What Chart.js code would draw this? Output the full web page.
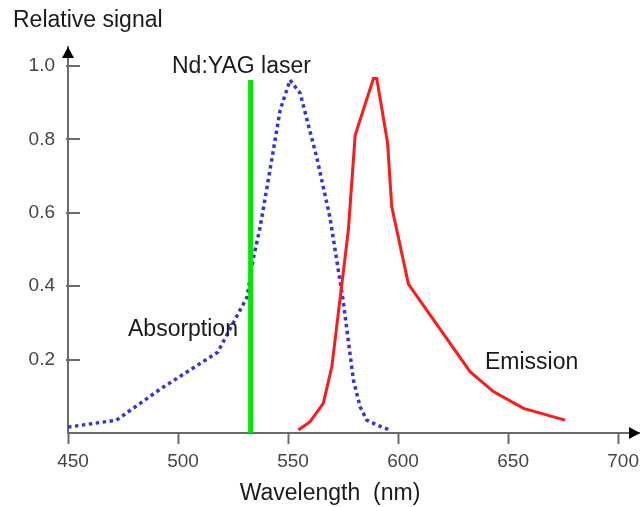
<!DOCTYPE html>
<html>
<head>
<meta charset="utf-8">
<title>Relative signal</title>
<script src="https://cdn.jsdelivr.net/npm/chart.js@4"></script>
<style>
  body { margin: 0; background: #fff; }
  canvas { display: block; }
</style>
</head>
<body>
<canvas id="spectra" width="640" height="507"></canvas>
<script>
// values
const absWavelength = [450, 472, 492, 518, 531.4, 534, 537.3, 541.8, 546.4, 550.9, 555.5, 563, 569, 575, 579.7, 582.7, 585.8, 590.3, 596.4];
const absSignal = [0.016, 0.035, 0.12, 0.22, 0.371, 0.47, 0.561, 0.717, 0.88, 0.962, 0.926, 0.752, 0.589, 0.362, 0.144, 0.072, 0.035, 0.022, 0.008];

const emWavelength = [554.7, 560, 566, 569.9, 577.4, 580.5, 588.8, 590.3, 595.2, 597.1, 604.7, 632.7, 643.3, 657, 675.9];
const emSignal = [0.008, 0.031, 0.081, 0.181, 0.553, 0.812, 0.966, 0.966, 0.792, 0.617, 0.406, 0.167, 0.113, 0.067, 0.035];

const laserWavelength = [533, 533];
const laserSignal = [0, 0.962];

const xTicks = [450, 500, 550, 600, 650, 700];
const yTicks = [0.2, 0.4, 0.6, 0.8, 1.0];

const toPoints = (xs, ys) => xs.map((x, i) => ({ x: x, y: ys[i] }));

const axisColor = "#6b6b6b";
const textFont = '23px "Liberation Sans", Arial, sans-serif';

// arrows, inward y ticks and the free text labels
const decorations = {
  id: "decorations",
  afterDraw(chart) {
    const ctx = chart.ctx;
    const area = chart.chartArea;
    const yScale = chart.scales.y;

    ctx.save();
    ctx.strokeStyle = axisColor;
    ctx.lineWidth = 2;
    yTicks.forEach((v) => {
      const py = Math.round(yScale.getPixelForValue(v));
      ctx.beginPath();
      ctx.moveTo(area.left - 2, py);
      ctx.lineTo(area.left + 12, py);
      ctx.stroke();
    });

    ctx.fillStyle = "#000";
    ctx.beginPath();
    ctx.moveTo(area.left, area.top);
    ctx.lineTo(area.left - 6, area.top + 11);
    ctx.lineTo(area.left + 6, area.top + 11);
    ctx.closePath();
    ctx.fill();

    ctx.beginPath();
    ctx.moveTo(area.right + 1, area.bottom);
    ctx.lineTo(area.right - 10, area.bottom - 6);
    ctx.lineTo(area.right - 10, area.bottom + 6);
    ctx.closePath();
    ctx.fill();

    ctx.font = textFont;
    ctx.fillStyle = "#1a1a1a";
    ctx.textBaseline = "middle";
    ctx.textAlign = "left";
    ctx.fillText("Relative signal", 13, 21);
    ctx.fillText("Nd:YAG laser", 172, 67);
    ctx.fillText("Absorption", 128, 330);
    ctx.fillText("Emission", 485, 363);
    ctx.textAlign = "center";
    ctx.fillText("Wavelength  (nm)", 330, 494);
    ctx.restore();
  },
};

const spectraCanvas = document.getElementById("spectra");
const spectraChart = new Chart(spectraCanvas, {
  type: "scatter",
  data: {
    datasets: [
      {
        label: "Emission",
        data: toPoints(emWavelength, emSignal),
        showLine: true,
        borderColor: "#ff1a1a",
        borderWidth: 3,
        pointRadius: 0,
        tension: 0,
      },
      {
        label: "Nd:YAG laser",
        data: toPoints(laserWavelength, laserSignal),
        showLine: true,
        borderColor: "#00e600",
        borderWidth: 5,
        pointRadius: 0,
      },
      {
        label: "Absorption",
        data: toPoints(absWavelength, absSignal),
        showLine: true,
        borderColor: "#3535d8",
        borderWidth: 3.5,
        borderDash: [3.5, 3.5],
        pointRadius: 0,
        tension: 0,
      },
    ],
  },
  options: {
    responsive: false,
    animation: false,
    devicePixelRatio: 1,
    layout: {
      padding: { top: 47, right: 0, left: 0, bottom: 0 },
    },
    plugins: {
      legend: { display: false },
      tooltip: { enabled: false },
    },
    scales: {
      x: {
        type: "linear",
        min: 450,
        max: 709.5,
        afterBuildTicks: (scale) => {
          scale.ticks = xTicks.map((v) => ({ value: v }));
        },
        afterFit: (scale) => {
          scale.height = 74;
        },
        grid: {
          drawOnChartArea: false,
          tickLength: 11,
          tickWidth: 2,
          tickColor: axisColor,
        },
        border: { color: axisColor, width: 2 },
        ticks: {
          padding: 6,
          labelOffset: 5,
          color: "#454545",
          font: { family: '"Liberation Sans", Arial, sans-serif', size: 19 },
          callback: (v) => String(v),
        },
      },
      y: {
        type: "linear",
        min: 0,
        max: 1.052,
        afterBuildTicks: (scale) => {
          scale.ticks = yTicks.map((v) => ({ value: v }));
        },
        afterFit: (scale) => {
          scale.width = 68;
        },
        grid: { display: false },
        border: { color: axisColor, width: 2 },
        ticks: {
          padding: 5,
          color: "#454545",
          font: { family: '"Liberation Sans", Arial, sans-serif', size: 19 },
          callback: (v) => v.toFixed(1),
        },
      },
    },
  },
  plugins: [decorations],
});
</script>
</body>
</html>
